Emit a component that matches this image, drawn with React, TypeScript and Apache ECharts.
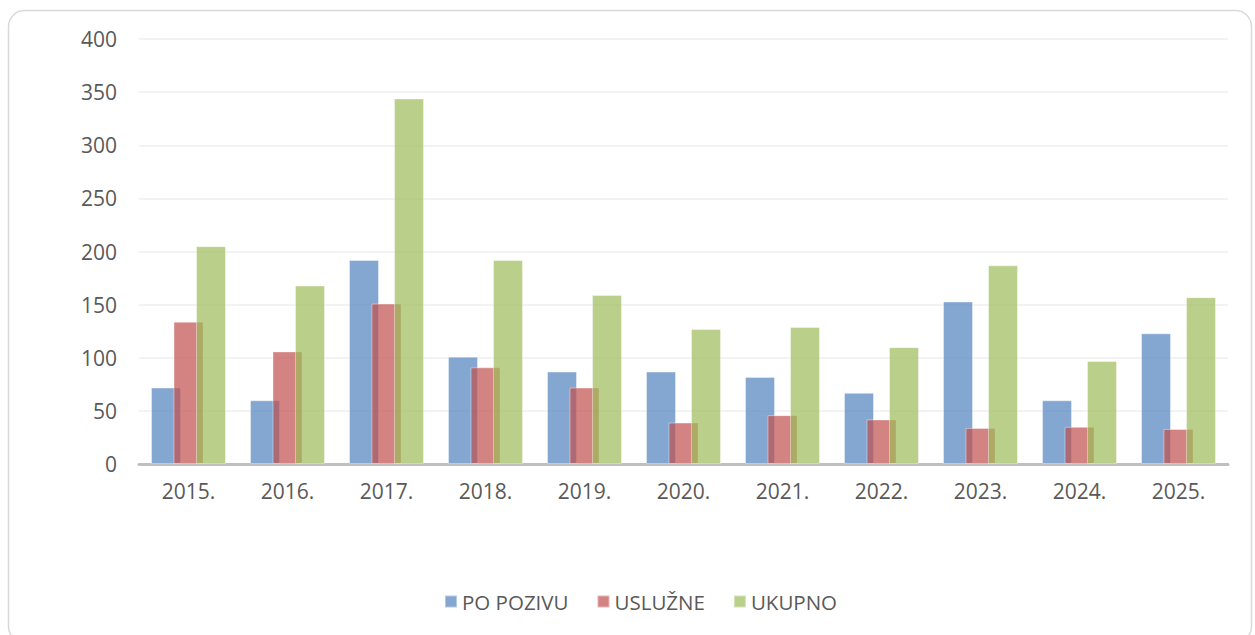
import React, { useEffect, useRef } from "react";
import * as echarts from "echarts";

const categories = ["2015.", "2016.", "2017.", "2018.", "2019.", "2020.", "2021.", "2022.", "2023.", "2024.", "2025."];
const poPozivu = [72, 60, 192, 101, 87, 87, 82, 67, 153, 60, 123];
const usluzne = [134, 106, 151, 91, 72, 39, 46, 42, 34, 35, 33];
const ukupno = [205, 168, 344, 192, 159, 127, 129, 110, 187, 97, 157];
const seriesNames = ["PO POZIVU", "USLUŽNE", "UKUPNO"];
const yTicks = { min: 0, max: 400, interval: 50 };

const colors = ["rgba(79,129,189,0.7)", "rgba(192,80,77,0.7)", "rgba(155,187,89,0.7)"];
const FONT = "'Open Sans', 'Noto Sans', sans-serif";

export default function App() {
  const ref = useRef<HTMLDivElement>(null);
  useEffect(() => {
    if (!ref.current) return;
    const chart = echarts.init(ref.current, null, { renderer: "svg" });
    const data = [poPozivu, usluzne, ukupno];
    chart.setOption({
      animation: false,
      backgroundColor: "#ffffff",
      graphic: [
        {
          type: "rect",
          shape: { x: 8.5, y: 10.5, width: 1243, height: 632, r: 16 },
          style: { fill: "none", stroke: "#d9d9d9", lineWidth: 1.5 },
          z: -1,
        },
      ],
      grid: { left: 139, right: 27, top: 39, bottom: 171, containLabel: false },
      legend: {
        bottom: 18,
        left: 439,
        itemWidth: 12,
        itemHeight: 12,
        itemGap: 28,
        icon: "rect",
        textStyle: { color: "#595959", fontSize: 20.5, fontFamily: FONT },
        data: seriesNames,
      },
      xAxis: {
        type: "category",
        data: categories,
        axisLine: { lineStyle: { color: "#bfbfbf", width: 3 } },
        axisTick: { show: false },
        axisLabel: { color: "#595959", fontSize: 21, fontFamily: FONT, margin: 16 },
      },
      yAxis: {
        type: "value",
        min: yTicks.min,
        max: yTicks.max,
        interval: yTicks.interval,
        axisLine: { show: false },
        axisTick: { show: false },
        splitLine: { lineStyle: { color: "#efefef", width: 1.5 } },
        axisLabel: { color: "#595959", fontSize: 21, fontFamily: FONT, margin: 22 },
      },
      series: seriesNames.map((name, i) => ({
        name,
        type: "bar",
        data: data[i],
        barWidth: 30,
        barGap: "-25%",
        itemStyle: {
          color: colors[i],
          borderColor: "rgba(255,255,255,0.4)",
          borderWidth: 1,
        },
      })),
    });
    return () => chart.dispose();
  }, []);
  return (
    <div
      ref={ref}
      style={{ position: "absolute", left: 0, top: 0, width: 1255, height: 635 }}
    />
  );
}
